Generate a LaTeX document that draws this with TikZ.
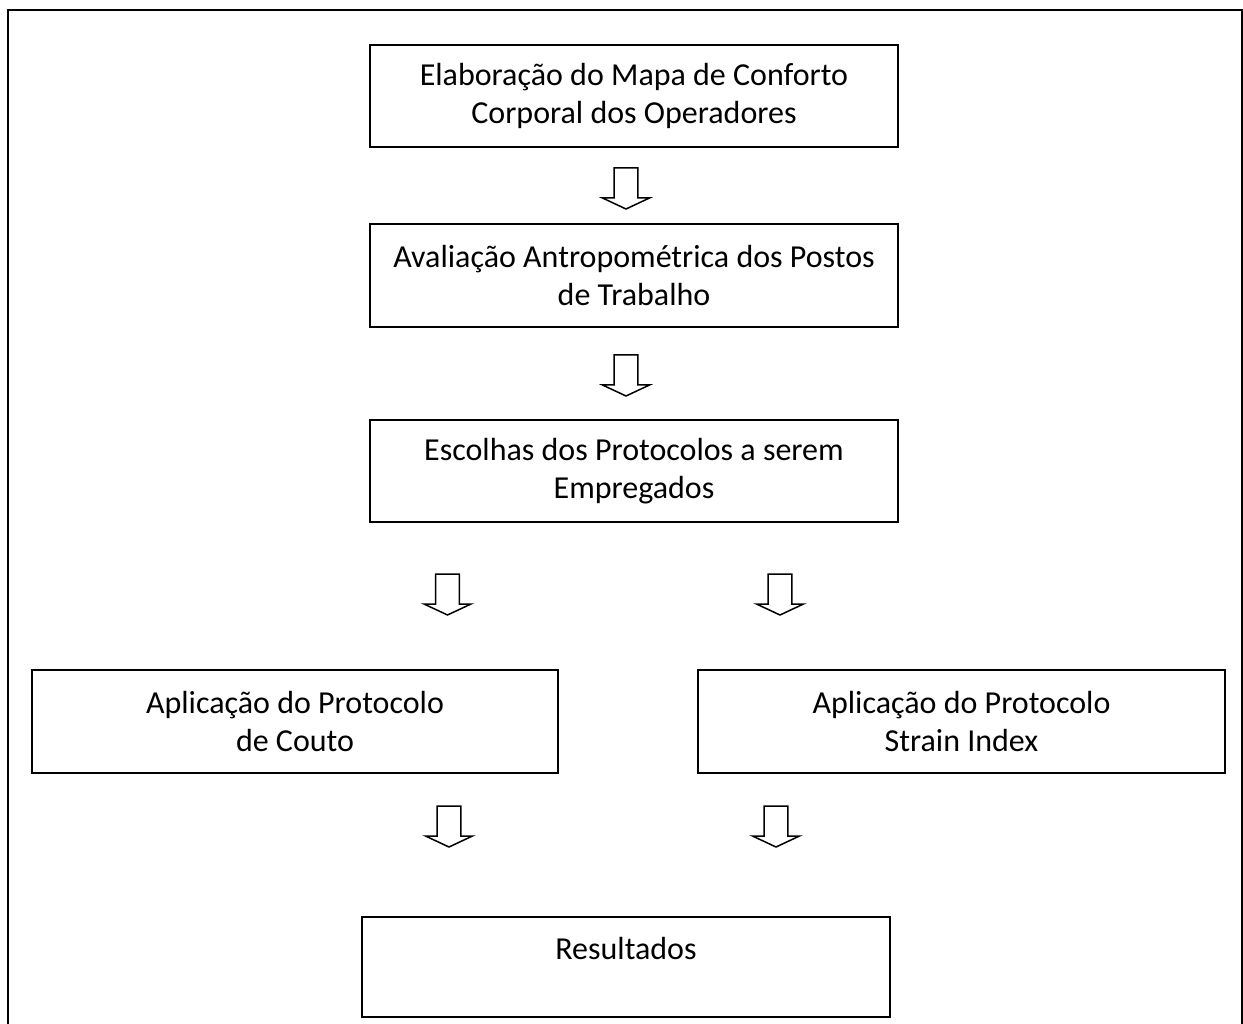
\documentclass[tikz,border=0pt]{standalone}
\usepackage{fontspec}
\setmainfont{Carlito}
\begin{document}
\begin{tikzpicture}[x=1pt,y=-1pt,
  stepbox/.style={draw=black,line width=1.8pt,rectangle,inner sep=0pt,align=center,
    font=\fontsize{32}{38}\selectfont,minimum height=102pt},
  arrowline/.style={draw=black,line width=1.5pt,line join=miter,fill=white},
  frameline/.style={draw=black,line width=2pt},
  downarrow/.pic={\path[arrowline] (-11.8,0) -- (11.8,0) -- (11.8,30) -- (23.5,30) -- (0,41) -- (-23.5,30) -- (-11.8,30) -- cycle;}
]
\useasboundingbox (0,0) rectangle (1243,1024);
% outer frame (open at the bottom)
\coordinate (fbl) at (7.5,1030);
\coordinate (ftl) at (7.5,10.5);
\coordinate (ftr) at (1241.5,10.5);
\coordinate (fbr) at (1241.5,1030);
\draw[frameline] (fbl) -- (ftl) -- (ftr) -- (fbr);

\node[stepbox,minimum width=528pt] (b1) at (634,96) {Elaboração do Mapa de Conforto\\Corporal dos Operadores};
\node[stepbox,minimum width=528pt,minimum height=103pt] (b2) at (634,275.5) {Avaliação Antropométrica dos Postos\\de Trabalho};
\node[stepbox,minimum width=528pt] (b3) at (634,471) {Escolhas dos Protocolos a serem\\Empregados};
\node[stepbox,minimum width=526pt,minimum height=103pt] (b4) at (295,721.5) {Aplicação do Protocolo\\de Couto};
\node[stepbox,minimum width=527pt,minimum height=103pt] (b5) at (961.5,721.5) {Aplicação do Protocolo\\Strain Index};
\node[stepbox,minimum width=528pt,minimum height=100pt] (b6) at (626,967) {Resultados\\\mbox{}};

\pic (a1) at (626,168) {downarrow};
\pic (a2) at (626,355) {downarrow};
\pic (a3) at (447.5,574) {downarrow};
\pic (a4) at (780,574) {downarrow};
\pic (a5) at (449,806) {downarrow};
\pic (a6) at (776,806) {downarrow};
\end{tikzpicture}
\end{document}
